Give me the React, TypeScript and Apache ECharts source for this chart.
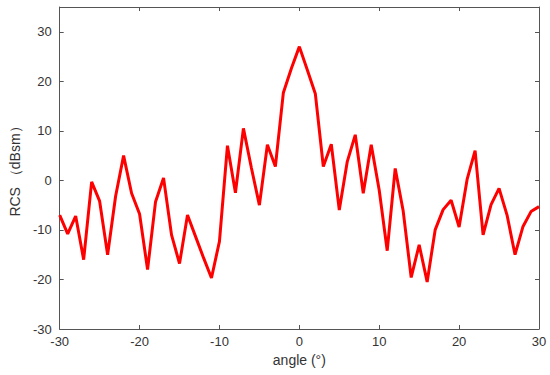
import React, { useEffect, useRef } from "react";
import * as echarts from "echarts";

const angles: number[] = [];
for (let a = -30; a <= 30; a++) angles.push(a);

const rcs: number[] = [
  -7, -10.8, -7.2, -16, -0.3, -4.2, -15, -3.2, 5, -2.6,
  -6.8, -18, -4.3, 0.5, -11, -16.8, -7, -11.3, -15.6, -19.7,
  -12.3, 7, -2.5, 10.5, 2.5, -5, 7.2, 2.8, 17.7, 22.6,
  27, 22.3, 17.5, 2.8, 7.3, -6, 3.8, 9.2, -2.6, 7.2,
  -2, -14.2, 2.4, -6.2, -19.6, -13, -20.5, -10, -5.9, -4,
  -9.4, 0.2, 6, -11, -4.9, -1.6, -7, -15, -9.3, -6.3, -5.3,
];

const xTicks = { min: -30, max: 30, interval: 10 };
const yTicks = { min: -30, max: 35, interval: 10 };

export default function App() {
  const ref = useRef<HTMLDivElement>(null);
  useEffect(() => {
    if (!ref.current) return;
    const chart = echarts.init(ref.current, undefined, { renderer: "svg" });
    const axisColor = "#555555";
    const labelColor = "#333333";
    const font = "Liberation Sans, Arial, sans-serif";
    chart.setOption({
      animation: false,
      grid: { left: 47, right: 11, top: 7, bottom: 46 },
      xAxis: [
        {
          type: "value",
          min: xTicks.min,
          max: xTicks.max,
          interval: xTicks.interval,
          name: "angle (°)",
          nameLocation: "middle",
          nameGap: 22,
          nameTextStyle: { color: labelColor, fontSize: 14, fontFamily: font },
          axisLine: { onZero: false, lineStyle: { color: axisColor, width: 1 } },
          axisTick: { inside: true, length: 4, lineStyle: { color: axisColor } },
          axisLabel: { color: labelColor, fontSize: 13, fontFamily: font, margin: 6 },
          splitLine: { show: false },
        },
        {
          type: "value",
          position: "top",
          min: xTicks.min,
          max: xTicks.max,
          interval: xTicks.interval,
          axisLine: { show: true, onZero: false, lineStyle: { color: axisColor, width: 1 } },
          axisTick: { inside: true, length: 4, lineStyle: { color: axisColor } },
          axisLabel: { show: false },
          splitLine: { show: false },
        },
      ],
      yAxis: [
        {
          type: "value",
          min: yTicks.min,
          max: yTicks.max,
          interval: yTicks.interval,
          name: "RCS （dBsm）",
          nameLocation: "middle",
          nameGap: 28,
          nameTextStyle: { color: labelColor, fontSize: 14, fontFamily: font },
          axisLine: { show: true, onZero: false, lineStyle: { color: axisColor, width: 1 } },
          axisTick: { show: true, inside: true, length: 4, lineStyle: { color: axisColor } },
          axisLabel: { color: labelColor, fontSize: 13, fontFamily: font, margin: 8, showMaxLabel: false },
          splitLine: { show: false },
        },
        {
          type: "value",
          position: "right",
          min: yTicks.min,
          max: yTicks.max,
          interval: yTicks.interval,
          axisLine: { show: true, onZero: false, lineStyle: { color: axisColor, width: 1 } },
          axisTick: { show: true, inside: true, length: 4, lineStyle: { color: axisColor } },
          axisLabel: { show: false },
          splitLine: { show: false },
        },
      ],
      series: [
        {
          type: "line",
          data: angles.map((a, i) => [a, rcs[i]]),
          showSymbol: false,
          lineStyle: { color: "#ff0000", width: 3 },
          itemStyle: { color: "#ff0000" },
          xAxisIndex: 0,
          yAxisIndex: 0,
        },
      ],
    });
    return () => chart.dispose();
  }, []);
  return (
    <div
      ref={ref}
      style={{ position: "fixed", left: 0, top: 0, width: 550, height: 375, background: "#fff" }}
    />
  );
}
